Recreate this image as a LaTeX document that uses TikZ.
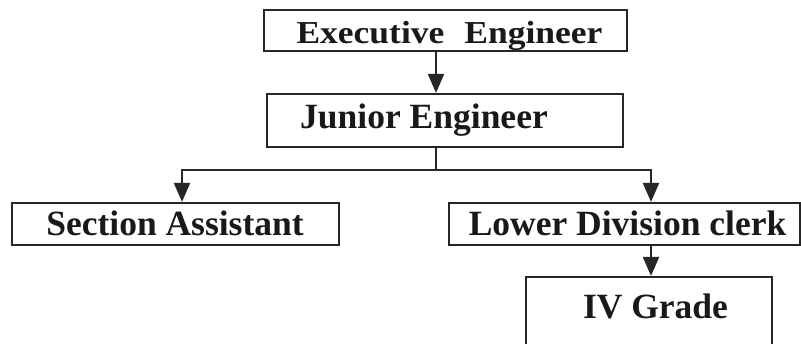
\documentclass[tikz,border=0pt]{standalone}
\usepackage{fontspec}
\setmainfont{Liberation Serif}
\usetikzlibrary{arrows.meta}
\tikzset{
  box/.style={draw=black!85, line width=2.2pt, fill=white, inner sep=0pt},
  lbl/.style={anchor=base, inner sep=0pt, font=\fontsize{35.5}{40}\selectfont\bfseries, text=black!90},
  conn/.style={draw=black!85, line width=2.2pt},
  arr/.style={conn, -{Triangle[width=16pt,length=19pt]}}
}
\begin{document}
\begin{tikzpicture}[x=1pt,y=-1pt]
\useasboundingbox[fill=white] (0,0) rectangle (801,343);
% boxes
\node[box, minimum width=363pt, minimum height=41pt] (exe) at (445.5,30.5) {};
\node[box, minimum width=356pt, minimum height=53pt] (je) at (445,120.5) {};
\node[box, minimum width=327pt, minimum height=42pt] (sa) at (175.5,224) {};
\node[box, minimum width=351pt, minimum height=42pt] (ldc) at (624.5,224) {};
\node[box, minimum width=246pt, minimum height=83pt] (iv) at (649,318.5) {};
% texts
\node[lbl] (exet) at (449.5,43) {\scalebox{1}[0.9]{Executive\hspace{20pt}Engineer}};
\node[lbl] (jet) at (424,128) {Junior Engineer};
\node[lbl] (sat) at (175,235) {Section Assistant};
\node[lbl] (ldct) at (627.5,235) {Lower Division clerk};
\node[lbl] (ivt) at (655.5,318) {IV Grade};
% connectors
\coordinate (jn) at (436,170);
\coordinate (ls) at (182,170);
\coordinate (rs) at (651,170);
\draw[arr] (exe.south -| jn) -- (je.north -| jn);
\draw[conn] (je.south -| jn) -- (jn);
\draw[arr] (jn) -- (ls) -- (sa.north -| ls);
\draw[arr] (jn) -- (rs) -- (ldc.north -| rs);
\draw[arr] (ldc.south -| rs) -- (iv.north -| rs);
\end{tikzpicture}
\end{document}
